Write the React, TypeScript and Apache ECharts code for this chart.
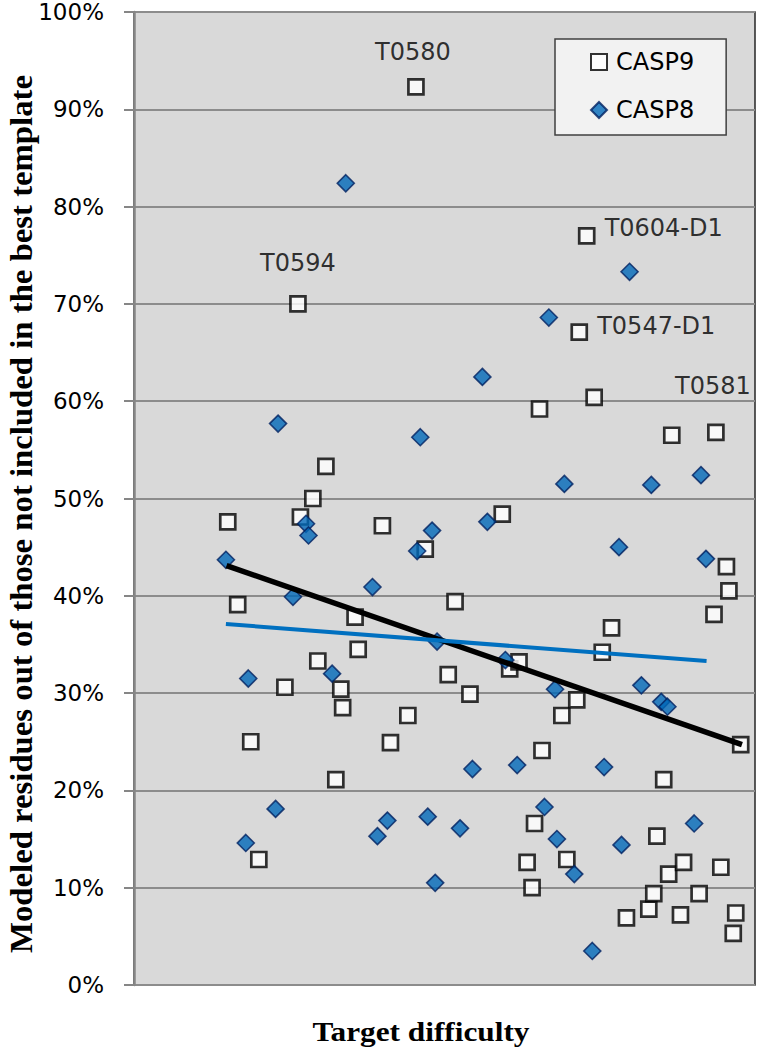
import React, { useEffect, useRef } from "react";
import * as echarts from "echarts";

// CASP9 targets (x = relative target difficulty, y = % modeled residues)
const casp9X = [15.1, 16.7, 18.8, 20.1, 24.3, 26.4, 26.8, 28.8, 29.6, 30.9, 32.5, 33.3, 33.6, 35.6, 36.1, 40.0, 41.3, 44.1, 45.4, 46.9, 50.6, 51.7, 54.1, 59.3, 60.5, 62.0, 63.3, 64.1, 64.5, 65.3, 65.7, 68.9, 69.7, 71.3, 71.7, 72.9, 74.1, 75.4, 76.9, 79.3, 82.9, 83.7, 84.2, 85.3, 86.1, 86.6, 88.0, 88.5, 91.0, 93.4, 93.7, 94.5, 95.4, 95.8, 96.5, 96.9, 97.7];
const casp9Y = [47.6, 39.1, 25.0, 12.9, 30.6, 70.0, 48.1, 50.0, 33.3, 53.3, 21.1, 30.4, 28.5, 37.8, 34.5, 47.2, 24.9, 27.7, 92.3, 44.8, 31.9, 39.4, 29.9, 48.4, 32.5, 33.2, 12.6, 10.0, 16.6, 59.2, 24.1, 27.7, 12.9, 29.3, 67.1, 77.0, 60.4, 34.2, 36.7, 6.9, 7.8, 9.4, 15.3, 21.1, 11.4, 56.5, 7.2, 12.6, 9.4, 38.1, 56.8, 12.1, 43.0, 40.5, 5.3, 7.4, 24.7];

// CASP8 targets
const casp8X = [14.8, 18.0, 18.4, 22.8, 23.2, 25.6, 27.7, 28.1, 31.9, 34.1, 38.4, 39.2, 40.8, 45.6, 46.1, 47.3, 48.0, 48.5, 48.8, 52.5, 54.5, 56.1, 56.9, 59.8, 61.7, 66.1, 66.8, 67.8, 68.1, 69.3, 70.9, 73.8, 75.7, 78.1, 78.5, 79.8, 81.7, 83.3, 84.9, 85.9, 90.2, 91.3, 92.1];
const casp8Y = [43.7, 14.6, 31.5, 18.1, 57.7, 39.9, 47.4, 46.2, 32.0, 82.4, 40.9, 15.3, 16.9, 44.6, 56.3, 17.3, 46.7, 10.5, 35.3, 16.1, 22.2, 62.5, 47.6, 33.4, 22.6, 18.3, 68.6, 30.4, 15.0, 51.5, 11.4, 3.5, 22.4, 45.0, 14.4, 73.3, 30.8, 51.4, 29.1, 28.6, 16.6, 52.4, 43.8];

// Linear trend lines (end points)
const casp9TrendX = [14.9, 97.9];
const casp9TrendY = [43.1, 24.7];
const casp8TrendX = [14.8, 92.2];
const casp8TrendY = [37.1, 33.3];

// Labeled CASP9 targets (matched by x value)
const labelNames = ["T0594", "T0580", "T0604-D1", "T0547-D1", "T0581"];
const labelX = [26.4, 45.4, 72.9, 71.7, 93.7];

const yTicks = [0, 10, 20, 30, 40, 50, 60, 70, 80, 90, 100];

const seriesNames = ["CASP9", "CASP8"];
const yTitle = "Modeled residues out of those not included in the best template";
const xTitle = "Target difficulty";

const labelOffsets: Record<string, number[]> = {
  T0594: [0, -41],
  T0580: [-3, -35],
  "T0604-D1": [77, -8],
  "T0547-D1": [77, -6],
  T0581: [-3, -46],
};

export default function App() {
  const ref = useRef<HTMLDivElement>(null);
  useEffect(() => {
    if (!ref.current) return;
    const chart = echarts.init(ref.current, undefined, { renderer: "svg" });

    const casp9Data = casp9X.map((x, i) => {
      const li = labelX.indexOf(x);
      if (li >= 0) {
        const name = labelNames[li];
        return {
          value: [x, casp9Y[i]],
          label: {
            show: true,
            formatter: name,
            position: "inside",
            offset: labelOffsets[name],
            fontSize: 24,
            fontFamily: "DejaVu Sans",
            color: "#000",
          },
        };
      }
      return { value: [x, casp9Y[i]] };
    });
    const casp8Data = casp8X.map((x, i) => [x, casp8Y[i]]);

    chart.setOption({
      animation: false,
      backgroundColor: "#ffffff",
      grid: {
        left: 134,
        top: 12,
        width: 621,
        height: 973,
        show: true,
        backgroundColor: "#d9d9d9",
        borderColor: "#262626",
        borderWidth: 1.5,
      },
      legend: {
        data: seriesNames,
        orient: "vertical",
        left: 555,
        top: 39,
        backgroundColor: "#f2f2f2",
        borderColor: "#404040",
        borderWidth: 1.5,
        borderRadius: 0,
        padding: [11, 32, 13, 35],
        itemGap: 24,
        itemWidth: 16,
        itemHeight: 16,
        selectedMode: false,
        textStyle: {
          fontSize: 24,
          lineHeight: 24,
          fontFamily: "DejaVu Sans",
          color: "#000",
          padding: [0, 0, 0, 4],
        },
      },
      xAxis: {
        type: "value",
        min: 0,
        max: 100,
        axisLine: { show: false },
        axisTick: { show: false },
        axisLabel: { show: false },
        splitLine: { show: false },
      },
      yAxis: {
        type: "value",
        min: yTicks[0],
        max: yTicks[yTicks.length - 1],
        interval: 10,
        axisLine: { show: true, lineStyle: { color: "#868686", width: 2.5 } },
        axisTick: { show: true, length: 10, lineStyle: { color: "#868686", width: 2 } },
        axisLabel: {
          formatter: "{value}%",
          fontSize: 23,
          lineHeight: 20,
          fontFamily: "DejaVu Sans",
          color: "#000",
          margin: 30,
        },
        splitLine: { show: true, lineStyle: { color: "#8c8c8c", width: 2 } },
      },
      series: [
        {
          name: seriesNames[0],
          type: "scatter",
          symbol: "rect",
          symbolSize: 15,
          itemStyle: { color: "#ffffff", borderColor: "#000000", borderWidth: 2.7 },
          data: casp9Data,
          z: 2,
        },
        {
          name: seriesNames[1],
          type: "scatter",
          symbol: "diamond",
          symbolSize: 17,
          itemStyle: { color: "#0068b8", borderColor: "#002060", borderWidth: 1.6 },
          data: casp8Data,
          z: 3,
        },
        {
          name: "CASP9 trend",
          type: "line",
          symbol: "none",
          silent: true,
          lineStyle: { color: "#000000", width: 5.5 },
          data: casp9TrendX.map((x, i) => [x, casp9TrendY[i]]),
          z: 4,
        },
        {
          name: "CASP8 trend",
          type: "line",
          symbol: "none",
          silent: true,
          lineStyle: { color: "#0070c0", width: 4 },
          data: casp8TrendX.map((x, i) => [x, casp8TrendY[i]]),
          z: 4,
        },
      ],
      graphic: [
        {
          type: "text",
          x: 21,
          y: 514,
          rotation: Math.PI / 2,
          scaleX: 1.17,
          scaleY: 1.12,
          style: {
            text: yTitle,
            font: 'bold 28px "Liberation Serif"',
            fill: "#000",
            align: "center",
            verticalAlign: "middle",
          },
        },
        {
          type: "text",
          x: 421,
          y: 1032,
          scaleX: 1.16,
          style: {
            text: xTitle,
            font: 'bold 27px "Liberation Serif"',
            fill: "#000",
            align: "center",
            verticalAlign: "middle",
          },
        },
      ],
    });
    return () => chart.dispose();
  }, []);
  return (
    <div
      ref={ref}
      style={{ position: "absolute", left: 0, top: 0, width: 757, height: 1050 }}
    />
  );
}
